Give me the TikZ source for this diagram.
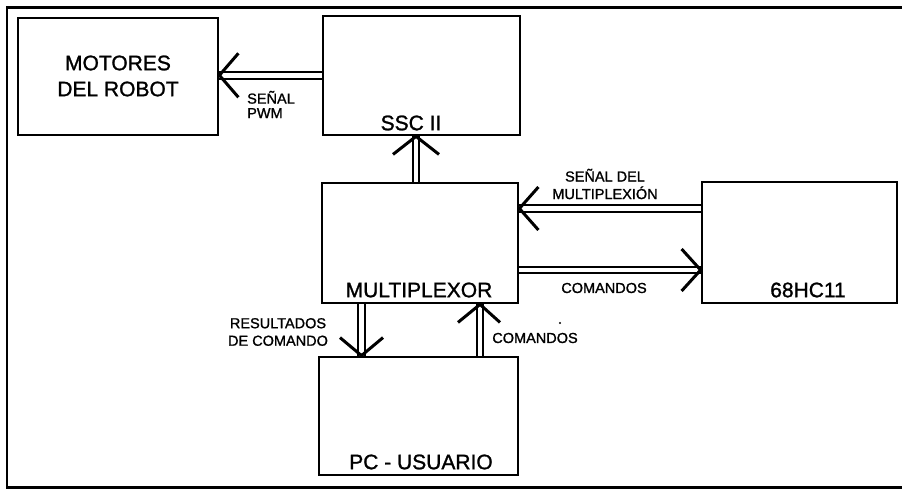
\documentclass[tikz,border=0pt]{standalone}
\usepackage{fontspec}
\setmainfont{Liberation Sans}[BoldFont=Liberation Sans, BoldFeatures={FakeBold=1.2}]
\usetikzlibrary{calc}
\tikzset{
  blk/.style={draw, line width=2.8pt, rectangle, inner sep=0pt},
  big/.style={font=\fontsize{21}{24}\selectfont\bfseries, inner sep=0pt},
  small/.style={font=\fontsize{14.5}{17}\selectfont\bfseries, inner sep=0pt, align=center},
  dbl/.style={draw, double, double distance=4.5pt, line width=2.2pt},
  arm/.style={draw, line width=3pt},
  frame/.style={draw, line width=2.6pt}
}
\begin{document}
\begin{tikzpicture}[x=1pt,y=-1pt]
\useasboundingbox[fill=white] (0,0) rectangle (902,489);
% frame (right side runs off the picture)
\coordinate (f1) at (915,7.5);
\coordinate (f2) at (7,7.5);
\coordinate (f3) at (7,487.5);
\coordinate (f4) at (915,487.5);
\draw[frame] (f1) -- (f2) -- (f3) -- (f4);
% blocks
\node[blk, minimum width=200pt, minimum height=117pt] (mot) at (118,76.5) {};
\node[blk, minimum width=197pt, minimum height=119pt] (ssc) at (421.5,75.5) {};
\node[blk, minimum width=196pt, minimum height=120pt] (mux) at (420,243) {};
\node[blk, minimum width=195pt, minimum height=121pt] (hc) at (799.5,242.5) {};
\node[blk, minimum width=199pt, minimum height=118pt] (pc) at (418.5,416) {};
% block texts
\node[big, align=center] (tmot) at (118,76) {MOTORES\\[2pt]DEL ROBOT};
\node[big] (tssc) at (411,123) {SSC II};
\node[big] (tmux) at (419,290) {MULTIPLEXOR};
\node[big] (thc) at (808,290) {68HC11};
\node[big] (tpc) at (421,462) {PC - USUARIO};
% connectors
\coordinate (a1) at ([yshift=1.2pt]mot.east);
\draw[dbl] (a1) -- (a1 -| ssc.west);
\coordinate (a2) at ([xshift=-5.5pt]ssc.south);
\draw[dbl] (a2) -- (a2 |- mux.north);
\coordinate (a3) at ([yshift=34.5pt]mux.east);
\draw[dbl] (a3) -- (a3 -| hc.west);
\coordinate (a4) at ([yshift=-27pt]mux.east);
\coordinate (a4e) at (a4 -| hc.west);
\draw[dbl] (a4) -- (a4e);
\coordinate (a5) at ([xshift=-58.5pt]mux.south);
\coordinate (a5e) at (a5 |- pc.north);
\draw[dbl] (a5) -- (a5e);
\coordinate (a6) at ([xshift=60pt]mux.south);
\coordinate (a6e) at (a6 |- pc.north);
\draw[dbl] (a6e) -- (a6);
% arrowheads (open V)
\draw[arm] ($(a1)+(19,-22)$) -- (a1) -- ($(a1)+(19,22)$);
\draw[arm] ($(a2)+(-23,18)$) -- (a2) -- ($(a2)+(23,18)$);
\draw[arm] ($(a3)+(19,-21.5)$) -- (a3) -- ($(a3)+(19,21.5)$);
\draw[arm] ($(a4e)+(-19,-21)$) -- (a4e) -- ($(a4e)+(-19,21)$);
\draw[arm] ($(a5e)+(-21.5,-18)$) -- (a5e) -- ($(a5e)+(21.5,-18)$);
\draw[arm] ($(a6)+(-22,18)$) -- (a6) -- ($(a6)+(20,18)$);
% connector labels
\node[small, align=left] (lpwm) at (271,104.5) {SEÑAL\\[-2.5pt]PWM};
\node[small] (lsig) at (605,184) {SEÑAL DEL\\[0.5pt]MULTIPLEXIÓN};
\node[small] (lcom1) at (604,288) {COMANDOS};
\node[small] (lres) at (278,332) {RESULTADOS\\[0.5pt]DE COMANDO};
\node[small] (lcom2) at (535,338) {COMANDOS};
\fill (560,323) circle (1.2pt);
\end{tikzpicture}
\end{document}
